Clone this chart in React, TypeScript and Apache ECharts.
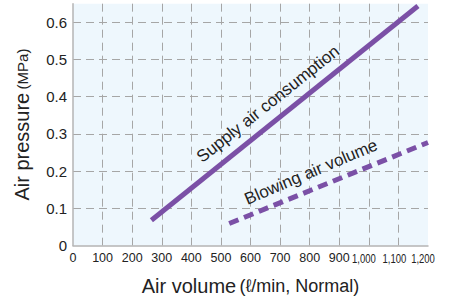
import React, { useEffect, useRef } from "react";
import * as echarts from "echarts";

const supplyX = [265, 1166];
const supplyY = [0.068, 0.644];
const blowX = [528, 1200];
const blowY = [0.059, 0.277];
const xMin = 0;
const xMax = 1200;
const xStep = 100;
const yMin = 0;
const yMax = 0.65;
const yStep = 0.1;
const wideTicks = [1000, 1100, 1200];
const wideTickShift = [-5, -4, -5];
const supplyLabel = "Supply air consumption";
const blowLabel = "Blowing air volume";

const FONT = "'Liberation Sans', Arial, sans-serif";
const PURPLE = "#7b50a6";

export default function App() {
  const ref = useRef<HTMLDivElement>(null);
  useEffect(() => {
    if (!ref.current) return;
    const chart = echarts.init(ref.current, undefined, { renderer: "svg" });
    const toPairs = (xs: number[], ys: number[]) => xs.map((x, i) => [x, ys[i]]);
    chart.setOption({
      animation: false,
      backgroundColor: "#ffffff",
      grid: {
        left: 73,
        right: 23,
        top: 3.7,
        bottom: 52.5,
        show: true,
        backgroundColor: "#eef7fd",
        borderWidth: 0,
        containLabel: false,
        outerBoundsMode: "none",
      },
      xAxis: {
        type: "value",
        min: xMin,
        max: xMax,
        interval: xStep,
        name: "{a|Air volume} {b|(ℓ/min, Normal)}",
        nameLocation: "middle",
        nameGap: 30,
        nameTextStyle: {
          rich: {
            a: { fontFamily: FONT, fontSize: 20, color: "#222" },
            b: { fontFamily: FONT, fontSize: 18, color: "#222" },
          },
        },
        axisLine: { show: true, lineStyle: { color: "#b4b4b4", width: 1.5 } },
        axisTick: { show: false },
        axisLabel: {
          fontFamily: FONT,
          fontSize: 12.5,
          color: "#222",
          margin: 6,
          showMaxLabel: true,
          formatter: (v: number) => (wideTicks.indexOf(v) >= 0 ? "" : String(v)),
        },
        splitLine: {
          show: true,
          showMinLine: false,
          showMaxLine: false,
          lineStyle: { color: "#a6a6a6", width: 1, type: [8, 5] },
        },
      },
      yAxis: {
        type: "value",
        min: yMin,
        max: yMax,
        interval: yStep,
        name: "{a|Air pressure} {b|(MPa)}",
        nameLocation: "middle",
        nameRotate: 90,
        nameGap: 41,
        nameTextStyle: {
          rich: {
            a: { fontFamily: FONT, fontSize: 20, color: "#222" },
            b: { fontFamily: FONT, fontSize: 15, color: "#222" },
          },
        },
        axisLine: { show: true, lineStyle: { color: "#b4b4b4", width: 1.5 } },
        axisTick: { show: false },
        axisLabel: {
          fontFamily: FONT,
          fontSize: 15,
          color: "#222",
          margin: 6,
          formatter: (v: number) => {
            const k = Math.round(v / yStep);
            if (Math.abs(k * yStep - v) > 1e-6) return "";
            return k === 0 ? "0" : (k * yStep).toFixed(1);
          },
        },
        splitLine: {
          show: true,
          showMinLine: false,
          showMaxLine: false,
          lineStyle: { color: "#a6a6a6", width: 1, type: [8, 5] },
        },
      },
      series: [
        {
          type: "line",
          data: toPairs(supplyX, supplyY),
          symbol: "none",
          lineStyle: { color: PURPLE, width: 5 },
          silent: true,
        },
        {
          type: "line",
          data: toPairs(blowX, blowY),
          symbol: "none",
          lineStyle: { color: PURPLE, width: 5, type: [10, 6] },
          silent: true,
        },
      ],
    });

    const axisY = chart.convertToPixel({ yAxisIndex: 0 }, yMin) as number;
    const tickTexts = wideTicks.map((v, i) => ({
      type: "text",
      x: (chart.convertToPixel({ xAxisIndex: 0 }, v) as number) + wideTickShift[i],
      y: axisY + 6,
      scaleX: 0.76,
      style: {
        text: v.toLocaleString("en-US"),
        fontFamily: FONT,
        fontSize: 12.5,
        fill: "#222",
        align: "center",
        verticalAlign: "top",
      },
    }));

    chart.setOption({
      graphic: [
        ...tickTexts,
        {
          type: "text",
          x: 268,
          y: 104,
          rotation: (38.5 * Math.PI) / 180,
          style: {
            text: supplyLabel,
            fontFamily: FONT,
            fontSize: 17,
            fill: "#222",
            align: "center",
            verticalAlign: "middle",
          },
        },
        {
          type: "text",
          x: 311,
          y: 172,
          rotation: (23 * Math.PI) / 180,
          style: {
            text: blowLabel,
            fontFamily: FONT,
            fontSize: 17,
            fill: "#222",
            align: "center",
            verticalAlign: "middle",
          },
        },
      ],
    });
    return () => chart.dispose();
  }, []);
  return (
    <div
      ref={ref}
      style={{ position: "fixed", left: 0, top: 0, width: 451, height: 298 }}
    />
  );
}
